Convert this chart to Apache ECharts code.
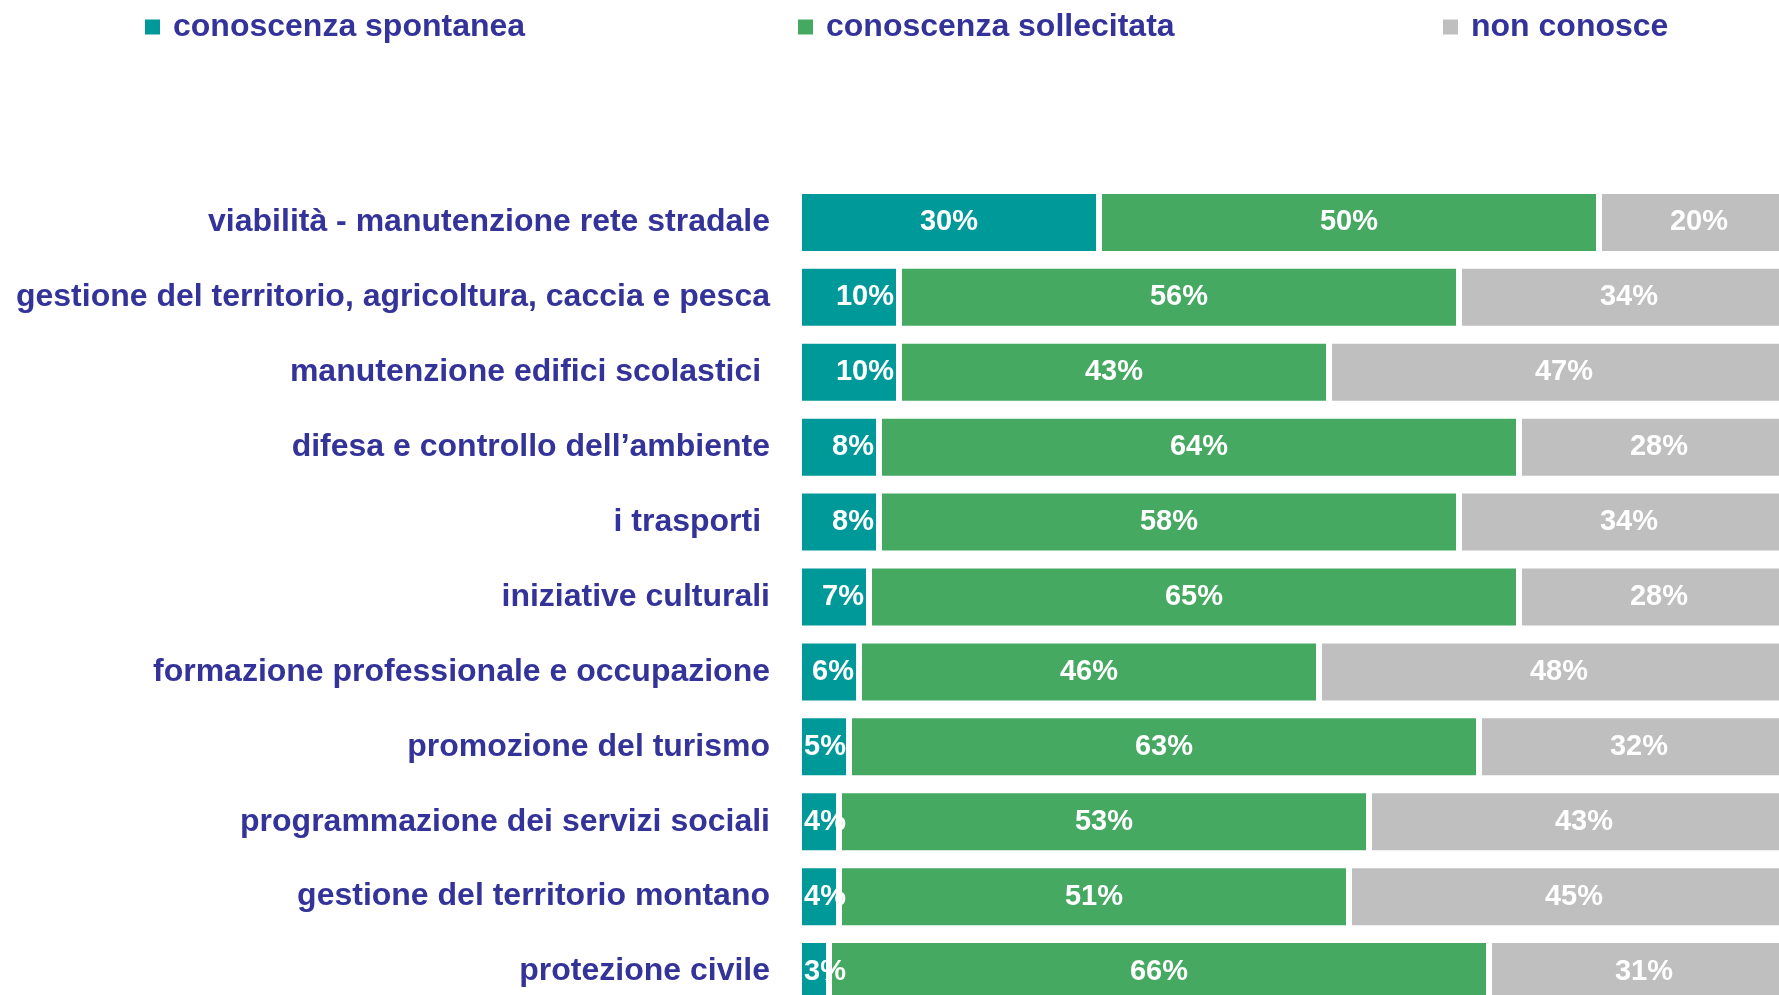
<!DOCTYPE html>
<html>
<head>
<meta charset="utf-8">
<script src="https://cdn.jsdelivr.net/npm/echarts@6/dist/echarts.min.js"></script>
<style>
  html, body { margin: 0; padding: 0; background: #fff; }
  #chart { width: 1779px; height: 995px; }
</style>
</head>
<body>
<div id="chart"></div>
<script>
// categorie (dall'alto verso il basso)
const categories = [
  'viabilità - manutenzione rete stradale',
  'gestione del territorio, agricoltura, caccia e pesca',
  'manutenzione edifici scolastici ',
  'difesa e controllo dell’ambiente',
  'i trasporti ',
  'iniziative culturali',
  'formazione professionale e occupazione',
  'promozione del turismo',
  'programmazione dei servizi sociali',
  'gestione del territorio montano',
  'protezione civile'
]
const seriesNames = ['conoscenza spontanea', 'conoscenza sollecitata', 'non conosce']
const spontanea = [30, 10, 10, 8, 8, 7, 6, 5, 4, 4, 3]
const sollecitata = [50, 56, 43, 64, 58, 65, 46, 63, 53, 51, 66]
const nonConosce = [20, 34, 47, 28, 34, 28, 48, 32, 43, 45, 31]

const colors = ['#009999', '#46A962', '#BFBFBF']
const textColor = '#333399'
const font = '"Liberation Sans", Arial, Helvetica, sans-serif'

const myChart = echarts.init(document.getElementById('chart'))

// una legenda per ogni voce, per poterle posizionare
const legendLeft = [143, 796, 1441]
const legends = seriesNames.map((name, i) => ({
  data: [name],
  left: legendLeft[i],
  top: 11,
  padding: 0,
  icon: 'rect',
  itemWidth: 17,
  itemHeight: 17,
  selectedMode: false,
  textStyle: {
    color: textColor,
    fontFamily: font,
    fontWeight: 'bold',
    fontSize: 32,
    padding: [0, 0, 0, 7]
  }
}))

const barLabel = {
  show: true,
  position: 'inside',
  formatter: '{c}%',
  color: '#ffffff',
  fontFamily: font,
  fontWeight: 'bold',
  fontSize: 29,
  padding: [5, 0, 0, 0]
}

// posizione delle etichette sulle barre strette
const labelPos = v => {
  if (v <= 5) return { value: v, label: { position: 'insideLeft', distance: 5 } }
  if (v <= 10) return { value: v, label: { position: 'insideRight', distance: 5 } }
  return v
}

const makeSeries = (name, data, color) => ({
  name,
  type: 'bar',
  stack: 'tot',
  barWidth: 63,
  data: data.map(labelPos),
  itemStyle: {
    color,
    borderColor: '#ffffff',
    borderWidth: 3
  },
  label: barLabel
})

const options = {
  animation: false,
  color: colors,
  legend: legends,
  grid: {
    // il grafico originale è tagliato a destra e in basso
    left: 799,
    top: 185,
    width: 1000,
    height: 824,
    outerBoundsMode: 'none',
    containLabel: false
  },
  xAxis: {
    type: 'value',
    min: 0,
    max: 100,
    show: false
  },
  yAxis: {
    type: 'category',
    inverse: true,
    data: categories,
    axisLine: { show: false },
    axisTick: { show: false },
    axisLabel: {
      margin: 29,
      color: textColor,
      fontFamily: font,
      fontWeight: 'bold',
      fontSize: 32,
      padding: [10, 0, 0, 0]
    }
  },
  series: [
    makeSeries(seriesNames[0], spontanea, colors[0]),
    makeSeries(seriesNames[1], sollecitata, colors[1]),
    makeSeries(seriesNames[2], nonConosce, colors[2])
  ]
}
myChart.setOption(options)
</script>
</body>
</html>
